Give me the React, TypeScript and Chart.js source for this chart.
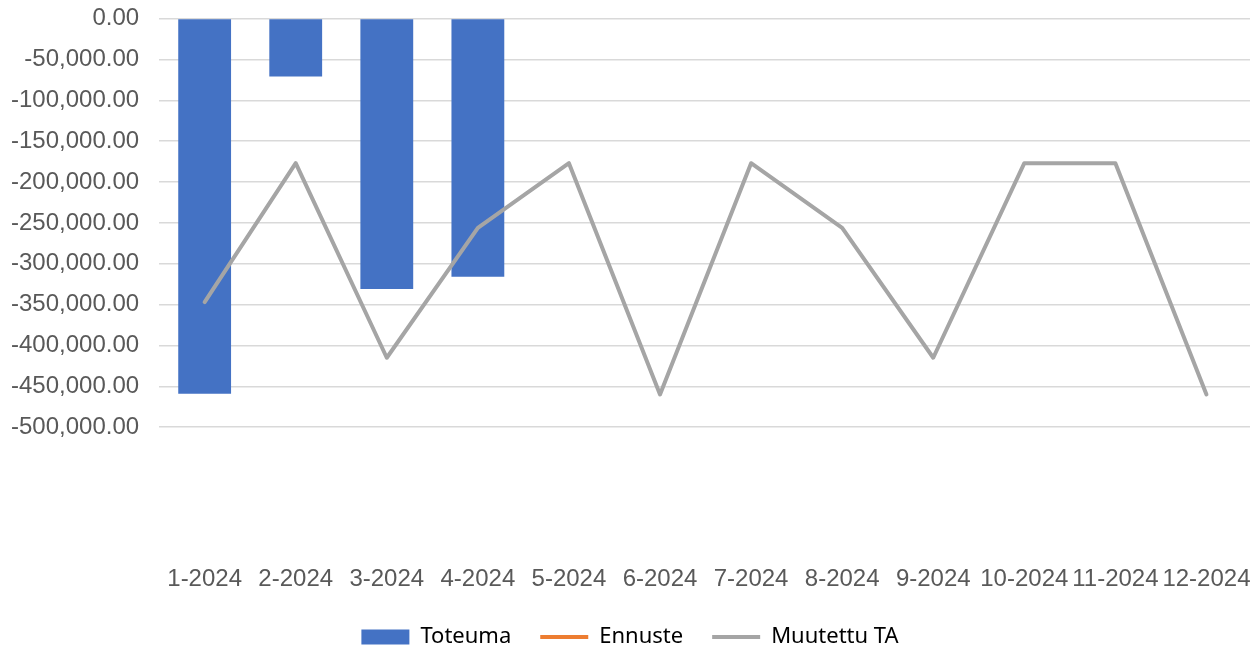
import React, { useEffect, useRef } from "react";
import { Chart, registerables } from "chart.js";

Chart.register(...registerables);

const categories = ["1-2024", "2-2024", "3-2024", "4-2024", "5-2024", "6-2024", "7-2024", "8-2024", "9-2024", "10-2024", "11-2024", "12-2024"];
const toteuma: (number | null)[] = [-459000, -71000, -331000, -316000, null, null, null, null, null, null, null, null];
const ennuste: (number | null)[] = [null, null, null, null, null, null, null, null, null, null, null, null];
const muutettuTA: number[] = [-347000, -177000, -415000, -256000, -177000, -460000, -177000, -256000, -415000, -177000, -177000, -460000];
const yMin = -500000;
const yMax = 0;
const yStep = 50000;

const BLUE = "#4472C4";
const ORANGE = "#ED7D31";
const GRAY = "#A5A5A5";
const CLEAR = "rgba(0,0,0,0)";

export default function App() {
  const ref = useRef<HTMLCanvasElement | null>(null);
  useEffect(() => {
    if (!ref.current) return;
    const chart = new Chart(ref.current, {
      type: "bar",
      data: {
        labels: categories,
        datasets: [
          { type: "bar", label: "Toteuma", data: toteuma, backgroundColor: BLUE, borderWidth: 0, categoryPercentage: 1, barPercentage: 0.58, order: 2 } as any,
          { type: "line", label: "Ennuste", data: ennuste, borderColor: ORANGE, backgroundColor: ORANGE, borderWidth: 4, pointRadius: 0, order: 1 } as any,
          { type: "line", label: "Muutettu TA", data: muutettuTA, borderColor: GRAY, backgroundColor: GRAY, borderWidth: 4, pointRadius: 0, borderJoinStyle: "round", borderCapStyle: "round", order: 0 } as any,
        ],
      },
      options: {
        animation: false,
        responsive: false,
        maintainAspectRatio: false,
        layout: { padding: { left: 0, right: 6, top: 0, bottom: 0 } },
        plugins: {
          tooltip: { enabled: false },
          legend: {
            position: "bottom",
            labels: {
              usePointStyle: true,
              pointStyleWidth: 48,
              boxHeight: 15,
              padding: 29,
              color: "#000000",
              font: { family: "'Noto Sans', sans-serif", size: 22 },
              sort: (a: any, b: any) => a.datasetIndex - b.datasetIndex,
              generateLabels: (c: any) => {
                const items = Chart.defaults.plugins.legend.labels.generateLabels(c);
                return items.map((it: any) => {
                  const ds: any = c.data.datasets[it.datasetIndex];
                  const isBar = ds.type === "bar";
                  const col = isBar ? ds.backgroundColor : ds.borderColor;
                  return { ...it, pointStyle: isBar ? "rect" : "line", fillStyle: col, strokeStyle: col, lineWidth: isBar ? 0 : 4, fontColor: "#000000" };
                });
              },
            },
          },
        },
        scales: {
          x: {
            grid: { display: true, color: CLEAR, tickColor: CLEAR, drawTicks: true, tickLength: 135 },
            border: { display: false },
            ticks: {
              color: "#595959",
              font: { family: "'Liberation Sans', Arial, sans-serif", size: 24 },
              padding: 3,
              autoSkip: false,
              maxRotation: 0,
              minRotation: 0,
            },
            afterFit: (s: any) => {
              s.paddingRight = 0;
            },
          },
          y: {
            min: yMin,
            max: yMax,
            grid: { color: "#D9D9D9", lineWidth: 1.5, drawTicks: true, tickLength: 17, tickColor: CLEAR },
            border: { display: false },
            ticks: {
              stepSize: yStep,
              autoSkip: false,
              color: "#595959",
              padding: 3,
              font: { family: "'Liberation Sans', Arial, sans-serif", size: 24, lineHeight: 0.63 },
              callback: (v: any) => Number(v).toLocaleString("en-US", { minimumFractionDigits: 2, maximumFractionDigits: 2 }),
            },
          },
        },
      },
    });
    return () => chart.destroy();
  }, []);
  return (
    <div style={{ width: 1250, height: 638, overflow: "hidden" }}>
      <canvas ref={ref} width={1250} height={650} style={{ display: "block" }} />
    </div>
  );
}
